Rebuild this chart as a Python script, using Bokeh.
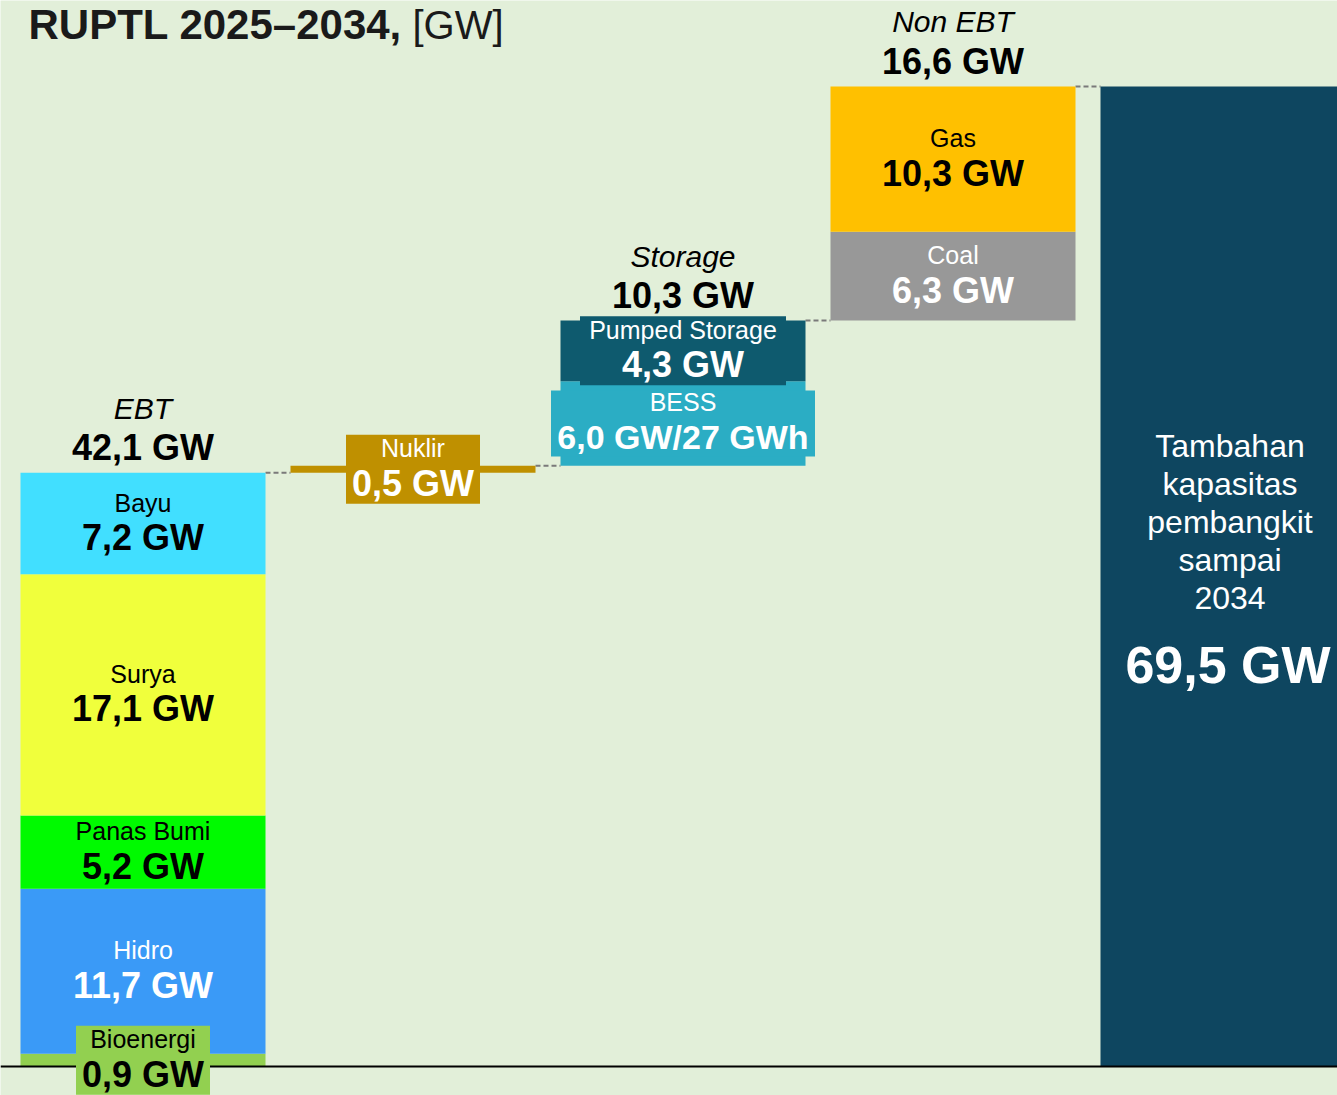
from bokeh.plotting import figure
from bokeh.models import Range1d, Label, ColumnDataSource
from bokeh.core.properties import value
from bokeh.embed import file_html
from bokeh.resources import INLINE

# ---------------- data ----------------
groups = ["EBT", "Nuklir", "Storage", "Non EBT", "Total"]
group_titles = ["EBT", "", "Storage", "Non EBT", ""]
show_group_total = [True, False, True, True, False]

seg_group = [0, 0, 0, 0, 0, 1, 2, 2, 3, 3, 4]
seg_names = ["Bioenergi", "Hidro", "Panas Bumi", "Surya", "Bayu",
             "Nuklir", "BESS", "Pumped Storage", "Coal", "Gas", ""]
seg_values = [0.9, 11.7, 5.2, 17.1, 7.2, 0.5, 6.0, 4.3, 6.3, 10.3, 69.5]
bess_energy_gwh = 27

total_lines = ["Tambahan", "kapasitas", "pembangkit", "sampai", "2034"]

# ---------------- styles ----------------
BG = "#e2efd9"
seg_colors = ["#92d050", "#3a9af7", "#00fa00", "#f0ff3c", "#41dfff",
              "#bf9000", "#2badc4", "#0e5a6e", "#989898", "#ffc000", "#0e4660"]
seg_text_colors = ["#000000", "#ffffff", "#000000", "#000000", "#000000",
                   "#ffffff", "#ffffff", "#ffffff", "#ffffff", "#000000", "#ffffff"]
# label boxes (screen px) for thin segments
box_style = {"Bioenergi": (134, 69), "Nuklir": (134, 69),
             "Pumped Storage": (206, 69), "BESS": (264, 66)}
BAR_W = 245 / 270
FONT = "Liberation Sans"
W, H = 1337, 1095


def fmt(v):
    return f"{v:.1f}".replace(".", ",") + " GW"


# ---------------- waterfall geometry from data ----------------
group_sum = [0.0] * len(groups)
for g, v in zip(seg_group, seg_values):
    if groups[g] != "Total":
        group_sum[g] += v
group_base = []
run = 0.0
for g in range(len(groups)):
    if groups[g] == "Total":
        group_base.append(0.0)
    else:
        group_base.append(run)
        run += group_sum[g]
group_top = [group_base[g] + (group_sum[g] if groups[g] != "Total" else seg_values[-1])
             for g in range(len(groups))]

bottoms, tops = [], []
acc = {}
for g, v in zip(seg_group, seg_values):
    b = group_base[g] + acc.get(g, 0.0)
    bottoms.append(b)
    tops.append(b + v)
    acc[g] = acc.get(g, 0.0) + v

xs = [float(g) for g in seg_group]
mids = [(b + t) / 2 for b, t in zip(bottoms, tops)]

# ---------------- figure ----------------
p = figure(width=W, height=H, output_backend="svg", toolbar_location=None,
           x_range=Range1d(-0.52778, 4.42407), y_range=Range1d(-2.0566, 75.597),
           min_border=0)
p.axis.visible = False
p.grid.visible = False
p.outline_line_color = None
p.background_fill_color = BG
p.border_fill_color = BG

# dashed connectors
cx0, cx1, cy = [], [], []
for g in range(len(groups) - 1):
    cx0.append(g + BAR_W / 2)
    cx1.append(g + 1 - BAR_W / 2)
    cy.append(group_top[g])
p.segment(x0=cx0, y0=cy, x1=cx1, y1=cy, line_color="#7a7a7a", line_width=2,
          line_dash="5 3")

# bars
src = ColumnDataSource(dict(left=[x - BAR_W / 2 for x in xs],
                            right=[x + BAR_W / 2 for x in xs],
                            bottom=bottoms, top=tops, color=seg_colors))
p.quad(left="left", right="right", bottom="bottom", top="top",
       fill_color="color", line_color=None, source=src)

# baseline
p.hspan(y=[0], line_color="#000000", line_width=2)

# label boxes for thin segments
bx, by, bw, bh, bc = [], [], [], [], []
for i, n in enumerate(seg_names):
    if n in box_style:
        bx.append(xs[i]); by.append(mids[i])
        bw.append(box_style[n][0]); bh.append(box_style[n][1])
        bc.append(seg_colors[i])
p.rect(x=bx, y=by, width=bw, height=bh, width_units="screen", height_units="screen",
       fill_color=bc, line_color=None)

# segment labels
nx, ny, nt, nc = [], [], [], []
vx, vy, vt, vc, vs = [], [], [], [], []
for i, n in enumerate(seg_names):
    if not n:
        continue
    nx.append(xs[i]); ny.append(mids[i]); nt.append(n); nc.append(seg_text_colors[i])
    lab = fmt(seg_values[i])
    size = "36px"
    if n == "BESS":
        lab = f"{fmt(seg_values[i])}/{bess_energy_gwh} GWh"
        size = "34px"
    vx.append(xs[i]); vy.append(mids[i]); vt.append(lab); vc.append(seg_text_colors[i]); vs.append(size)

p.text(x=nx, y=ny, text=nt, text_color=nc, text_font=value(FONT), text_font_size="25px",
       text_align="center", text_baseline="middle", y_offset=-21)
p.text(x=vx, y=vy, text=vt, text_color=vc, text_font=value(FONT), text_font_size=vs,
       text_font_style="bold", text_align="center", text_baseline="middle", y_offset=14)

# group titles
gx = [float(g) for g in range(len(groups)) if show_group_total[g]]
gy = [group_top[g] for g in range(len(groups)) if show_group_total[g]]
gt = [group_titles[g] for g in range(len(groups)) if show_group_total[g]]
gv = [fmt(group_sum[g]) for g in range(len(groups)) if show_group_total[g]]
p.text(x=gx, y=gy, text=gt, text_color="#000000", text_font=value(FONT),
       text_font_size="30px", text_font_style="italic", text_align="center",
       text_baseline="middle", y_offset=-64.5)
p.text(x=gx, y=gy, text=gv, text_color="#000000", text_font=value(FONT),
       text_font_size="36px", text_font_style="bold", text_align="center",
       text_baseline="middle", y_offset=-25)

# total bar text
ti = len(groups) - 1
tmid = seg_values[-1] / 2
p.text(x=[float(ti)] * len(total_lines), y=[tmid] * len(total_lines), text=total_lines,
       text_color="#ffffff", text_font=value(FONT), text_font_size="32px",
       text_align="center", text_baseline="middle", x_offset=7,
       y_offset=[-130 + 38 * k for k in range(len(total_lines))])
p.text(x=[float(ti)], y=[tmid], text=[fmt(seg_values[-1])], text_color="#ffffff",
       text_font=value(FONT), text_font_size="52px", text_font_style="bold",
       text_align="center", text_baseline="middle", x_offset=5, y_offset=89)

# title
p.add_layout(Label(x=28, y=H - 24, x_units="screen", y_units="screen",
                   text="RUPTL 2025\u20132034,", text_font=FONT, text_font_size="42px",
                   text_font_style="bold", text_color="#1a1a1a", text_baseline="middle"))
p.add_layout(Label(x=412, y=H - 24, x_units="screen", y_units="screen",
                   text="[GW]", text_font=FONT, text_font_size="40px",
                   text_color="#1a1a1a", text_baseline="middle"))

open("out.html", "w").write(file_html(p, INLINE))
